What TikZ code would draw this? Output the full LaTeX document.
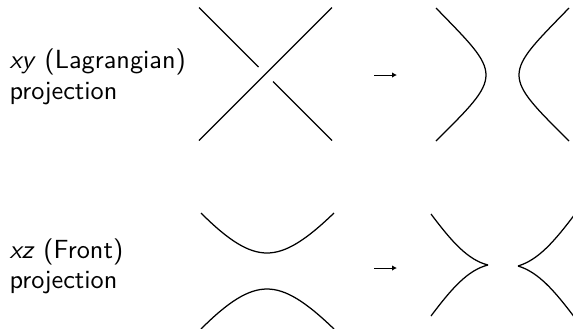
\documentclass[tikz,border=0pt]{standalone}
\usetikzlibrary{arrows.meta}
\tikzset{
  lbl/.style={font=\sffamily\fontsize{10.5}{12.5}\selectfont, inner sep=0pt, anchor=base west},
  move/.style={line width=0.4pt, -{Latex[length=2pt,width=2.2pt]}},
}
\begin{document}
\begin{tikzpicture}[x=0.4pt, y=-0.4pt, line width=0.5pt]
  \useasboundingbox (0,0) rectangle (573,328);
  % labels
  \node[lbl] (lagA) at (9,68) {\textit{xy} (Lagrangian)};
  \node[lbl] (lagB) at (9,99) {projection};
  \node[lbl] (frA) at (9,258) {\textit{xz} (Front)};
  \node[lbl] (frB) at (9,288) {projection};
  % crossing
  \draw (199,140.5) -- (332,7.5);
  \draw (199,7.5) -- (258.5,67);
  \draw (273,81.5) -- (332,140.5);
  \coordinate (a1) at (374,75);
  \coordinate (a2) at (397,75);
  \draw[move] (a1) -- (a2);
  \draw (436,8) .. controls (468,41) and (486,58) .. (486,75)
        .. controls (486,92) and (468,109) .. (436,141);
  \draw (569,8) .. controls (537,41) and (519,58) .. (519,75)
        .. controls (519,92) and (537,109) .. (569,141);
  % front
  \draw (201,213) .. controls (228,240) and (248,253) .. (267,253)
        .. controls (286,253) and (306,240) .. (334,213);
  \draw (201,329) .. controls (228,302) and (248,289) .. (267,289)
        .. controls (286,289) and (306,302) .. (334,329);
  \coordinate (b1) at (374,268);
  \coordinate (b2) at (397,268);
  \draw[move] (b1) -- (b2);
  \draw (431,214) .. controls (452,242) and (468,260) .. (488,265);
  \draw (431,316) .. controls (452,288) and (468,270) .. (488,265);
  \draw (575,214) .. controls (554,242) and (538,260) .. (518,266);
  \draw (575,318) .. controls (554,290) and (538,272) .. (518,266);
\end{tikzpicture}
\end{document}
